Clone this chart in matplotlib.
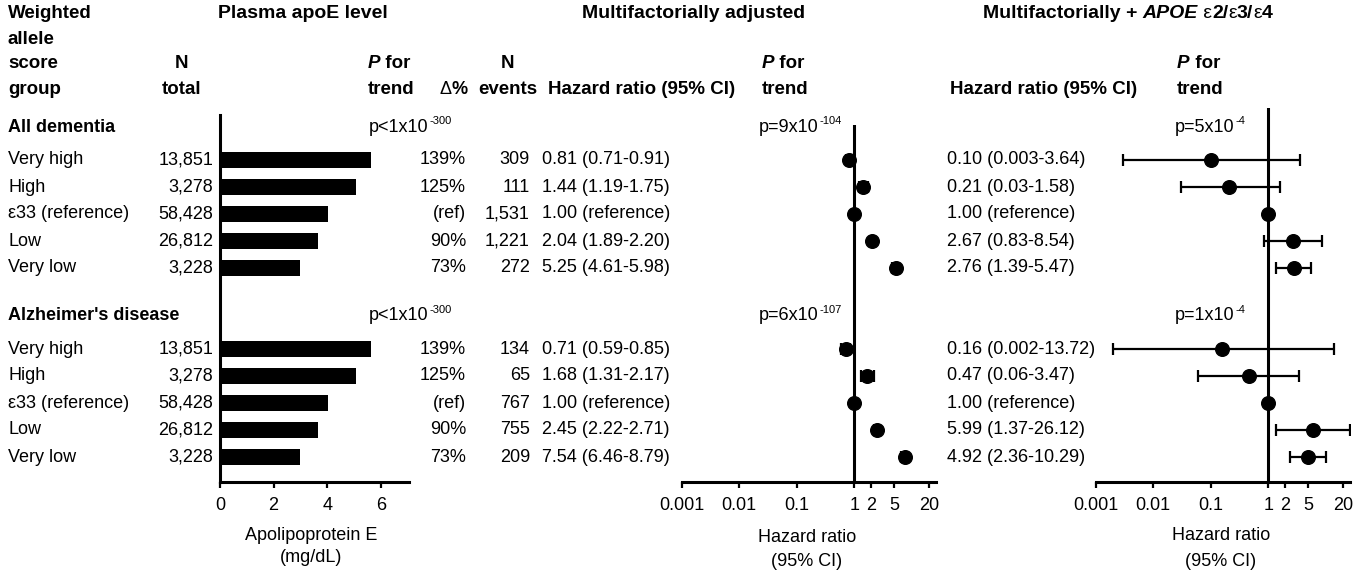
import matplotlib.pyplot as plt

plt.rcParams['font.family'] = ['Liberation Sans', 'DejaVu Sans']

# data
groups = ['Very high', 'High', 'ε33 (reference)', 'Low', 'Very low']
n_total = ['13,851', '3,278', '58,428', '26,812', '3,228']
apoe_level = [5.63, 5.07, 4.04, 3.64, 2.97]
delta_pct = ['139%', '125%', '(ref)', '90%', '73%']

dem_events = ['309', '111', '1,531', '1,221', '272']
dem_hr = [0.81, 1.44, 1.00, 2.04, 5.25]
dem_lo = [0.71, 1.19, 1.00, 1.89, 4.61]
dem_hi = [0.91, 1.75, 1.00, 2.20, 5.98]
dem_hr2 = [0.10, 0.21, 1.00, 2.67, 2.76]
dem_lo2 = [0.003, 0.03, 1.00, 0.83, 1.39]
dem_hi2 = [3.64, 1.58, 1.00, 8.54, 5.47]

ad_events = ['134', '65', '767', '755', '209']
ad_hr = [0.71, 1.68, 1.00, 2.45, 7.54]
ad_lo = [0.59, 1.31, 1.00, 2.22, 6.46]
ad_hi = [0.85, 2.17, 1.00, 2.71, 8.79]
ad_hr2 = [0.16, 0.47, 1.00, 5.99, 4.92]
ad_lo2 = [0.002, 0.06, 1.00, 1.37, 2.36]
ad_hi2 = [13.72, 3.47, 1.00, 26.12, 10.29]

outcomes = ['All dementia', "Alzheimer's disease"]
p_level = [('p<1x10', '-300'), ('p<1x10', '-300')]
p_adj = [('p=9x10', '-104'), ('p=6x10', '-107')]
p_apoe = [('p=5x10', '-4'), ('p=1x10', '-4')]

hr_ticks = [0.001, 0.01, 0.1, 1, 2, 5, 20]
hr_ticklabels = ['0.001', '0.01', '0.1', '1', '2', '5', '20']

W, H = 1367, 571
fig = plt.figure(figsize=(W / 100, H / 100), dpi=100)


def fmt(v):
    return f'{v:.2f}' if v >= 0.01 else f'{v:.3f}'


def hr_label(hr, lo, hi):
    if hr == 1.0 and lo == hi:
        return '1.00 (reference)'
    return f'{fmt(hr)} ({fmt(lo)}-{fmt(hi)})'


# row layout: pixel y = 160 + 27 * row
row_starts = [0, 7]
BOTTOM = 482


def make_ax(x0, x1, top):
    ax = fig.add_axes([x0 / W, (H - BOTTOM) / H, (x1 - x0) / W, (BOTTOM - top) / H])
    ax.set_ylim((BOTTOM - 160) / 27, (top - 160) / 27)
    ax.set_yticks([])
    for s in ['top', 'right', 'left']:
        ax.spines[s].set_visible(False)
    ax.spines['bottom'].set_linewidth(2.2)
    ax.tick_params(axis='x', width=1.6, length=4, labelsize=13, pad=7)
    ax.patch.set_alpha(0)
    return ax


ax1 = make_ax(220, 409, 115)
ax1.set_xlim(0, 7.05)
ax1.spines['left'].set_visible(True)
ax1.spines['left'].set_linewidth(2.2)
ax1.set_xticks([0, 2, 4, 6])
for start in row_starts:
    rows = [start + i for i in range(5)]
    ax1.barh(rows, apoe_level, height=0.62, color='black')

ax2 = make_ax(681.7, 936, 125)
ax3 = make_ax(1095.7, 1350, 108)
series = [(ax2, [(dem_hr, dem_lo, dem_hi), (ad_hr, ad_lo, ad_hi)]),
          (ax3, [(dem_hr2, dem_lo2, dem_hi2), (ad_hr2, ad_lo2, ad_hi2)])]
for ax, sets in series:
    ax.set_xscale('log')
    ax.set_xlim(0.001, 26.5)
    ax.axvline(1, color='black', lw=2.2, zorder=1)
    ax.set_xticks(hr_ticks)
    ax.set_xticklabels(hr_ticklabels)
    ax.minorticks_off()
    for start, (hr, lo, hi) in zip(row_starts, sets):
        rows = [start + i for i in range(5)]
        xerr = [[h - l for h, l in zip(hr, lo)], [u - h for h, u in zip(hr, hi)]]
        ax.errorbar(hr, rows, xerr=xerr, fmt='o', ms=9.8, color='black',
                    elinewidth=1.6, capsize=4.3, capthick=1.6, zorder=3)

# text overlay in pixel coordinates
ov = fig.add_axes([0, 0, 1, 1])
ov.set_xlim(0, W)
ov.set_ylim(H, 0)
ov.axis('off')


def chain(x, y, pieces, size):
    prev = None
    for s, w, st in pieces:
        if prev is None:
            prev = ov.text(x, y, s, fontsize=size, fontweight=w, fontstyle=st,
                           ha='left', va='center')
        else:
            prev = ov.annotate(s, xy=(1, 0), xycoords=prev, fontsize=size,
                               fontweight=w, fontstyle=st, ha='left', va='bottom')


def pval(x, y, base, sup, size):
    t = ov.text(x, y, base, fontsize=size, ha='left', va='center')
    ov.annotate(sup, xy=(1, 1), xycoords=t, xytext=(0.5, 1.5), textcoords='offset points',
                fontsize=size * 0.62, ha='left', va='top')


hs = 13.5
ov.text(8, 14, 'Weighted', fontsize=hs, fontweight='bold', va='center')
ov.text(8, 39, 'allele', fontsize=hs, fontweight='bold', va='center')
ov.text(8, 64, 'score', fontsize=hs, fontweight='bold', va='center')
ov.text(8, 89, 'group', fontsize=hs, fontweight='bold', va='center')
ov.text(182, 64, 'N', fontsize=hs, fontweight='bold', ha='center', va='center')
ov.text(182, 89, 'total', fontsize=hs, fontweight='bold', ha='center', va='center')
ov.text(303, 14, 'Plasma apoE level', fontsize=14, fontweight='bold', ha='center', va='center')
chain(368, 64, [('P', 'bold', 'italic'), (' for', 'bold', 'normal')], hs)
ov.text(368, 89, 'trend', fontsize=hs, fontweight='bold', va='center')
chain(439, 89, [('Δ', 'normal', 'normal'), ('%', 'bold', 'normal')], 13)
ov.text(508, 64, 'N', fontsize=hs, fontweight='bold', ha='center', va='center')
ov.text(508, 89, 'events', fontsize=hs, fontweight='bold', ha='center', va='center')
ov.text(548, 89, 'Hazard ratio (95% CI)', fontsize=hs, fontweight='bold', va='center')
ov.text(694, 14, 'Multifactorially adjusted', fontsize=14, fontweight='bold', ha='center', va='center')
chain(762, 64, [('P', 'bold', 'italic'), (' for', 'bold', 'normal')], hs)
ov.text(762, 89, 'trend', fontsize=hs, fontweight='bold', va='center')
ov.text(950, 89, 'Hazard ratio (95% CI)', fontsize=hs, fontweight='bold', va='center')
chain(983, 14, [('Multifactorially + ', 'bold', 'normal'), ('APOE', 'bold', 'italic'),
                (' ε', 'normal', 'normal'), ('2/', 'bold', 'normal'), ('ε', 'normal', 'normal'),
                ('3/', 'bold', 'normal'), ('ε', 'normal', 'normal'), ('4', 'bold', 'normal')], 14)
chain(1177, 64, [('P', 'bold', 'italic'), (' for', 'bold', 'normal')], hs)
ov.text(1177, 89, 'trend', fontsize=hs, fontweight='bold', va='center')

bs = 13
header_y = [127, 316]
all_sets = [(dem_events, dem_hr, dem_lo, dem_hi, dem_hr2, dem_lo2, dem_hi2),
            (ad_events, ad_hr, ad_lo, ad_hi, ad_hr2, ad_lo2, ad_hi2)]
for k, start in enumerate(row_starts):
    hy = header_y[k]
    ov.text(8, hy, outcomes[k], fontsize=bs, fontweight='bold', va='center')
    pval(369, hy, *p_level[k], bs)
    pval(759, hy, *p_adj[k], bs)
    pval(1175, hy, *p_apoe[k], bs)
    ev, hr, lo, hi, hr2, lo2, hi2 = all_sets[k]
    for i in range(5):
        y = 160 + 27 * (start + i)
        ov.text(8, y, groups[i], fontsize=bs, va='center')
        ov.text(213, y, n_total[i], fontsize=bs, ha='right', va='center')
        ov.text(466, y, delta_pct[i], fontsize=bs, ha='right', va='center')
        ov.text(530, y, ev[i], fontsize=bs, ha='right', va='center')
        ov.text(542, y, hr_label(hr[i], lo[i], hi[i]), fontsize=bs, va='center')
        ov.text(947, y, hr_label(hr2[i], lo2[i], hi2[i]), fontsize=bs, va='center')

ov.text(311, 535, 'Apolipoprotein E', fontsize=bs, ha='center', va='center')
ov.text(311, 558, '(mg/dL)', fontsize=bs, ha='center', va='center')
ov.text(807, 537, 'Hazard ratio', fontsize=bs, ha='center', va='center')
ov.text(807, 562, '(95% CI)', fontsize=bs, ha='center', va='center')
ov.text(1221, 536, 'Hazard ratio', fontsize=bs, ha='center', va='center')
ov.text(1221, 561, '(95% CI)', fontsize=bs, ha='center', va='center')

fig.savefig('out.png', dpi=100)
